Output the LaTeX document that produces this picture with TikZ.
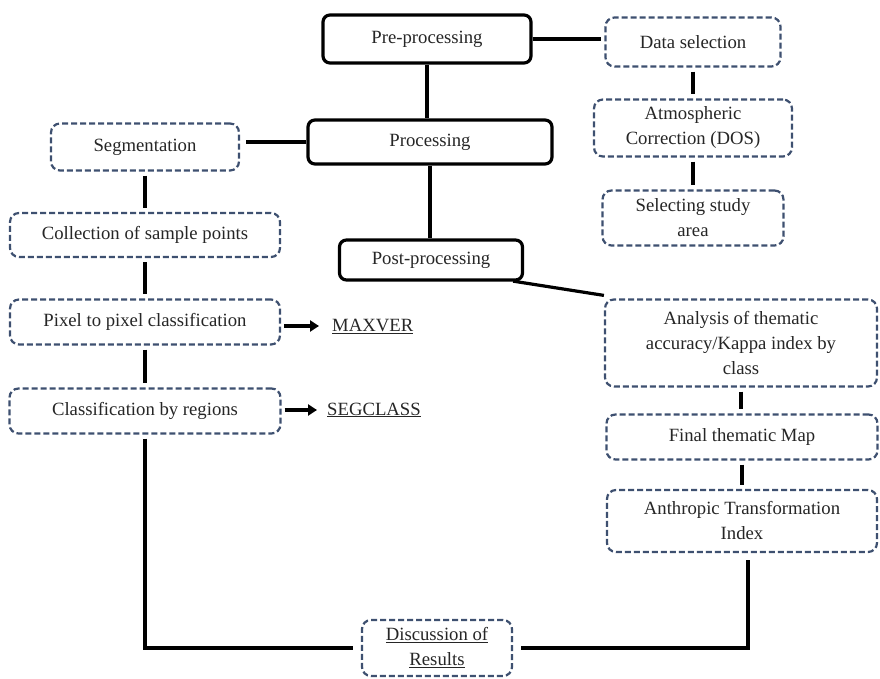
\documentclass[tikz,border=0pt]{standalone}
\usepackage{fontspec}
\setmainfont{Liberation Serif}
\usetikzlibrary{arrows.meta}
\definecolor{dashblue}{RGB}{62,80,112}
\tikzset{
  solidbox/.style={draw=black, line width=3.2pt, rounded corners=7pt, fill=white, align=center, inner sep=0pt},
  dashbox/.style={draw=dashblue, line width=2.2pt, dash pattern=on 6pt off 3pt, rounded corners=9pt, fill=white, align=center, inner sep=0pt},
  link/.style={line width=3.2pt, black},
  gap/.style={shorten <=4pt, shorten >=4pt},
  tool/.style={anchor=west, inner sep=0pt},
}
\begin{document}
\begin{tikzpicture}[x=1pt, y=-1pt, font=\fontsize{18.7}{25}\selectfont, text=black!85]
            \useasboundingbox (0,0) rectangle (880,679);

            % main chain
            \node[solidbox, minimum width=208pt, minimum height=48pt] (pre) at (427,39) {Pre-processing};
            \node[solidbox, minimum width=244pt, minimum height=44pt] (proc) at (430,142) {Processing};
            \node[solidbox, minimum width=183pt, minimum height=40pt] (post) at (431,260) {Post-processing};

            % pre-processing steps
            \node[dashbox, minimum width=175pt, minimum height=49pt] (data) at (693,42) {Data selection};
            \node[dashbox, minimum width=198pt, minimum height=57pt] (atm) at (693,128) {Atmospheric\\Correction (DOS)};
            \node[dashbox, minimum width=181pt, minimum height=55pt] (area) at (693,218) {Selecting study\\area};

            % processing steps
            \node[dashbox, minimum width=188pt, minimum height=47pt] (seg) at (145,147) {Segmentation};
            \node[dashbox, minimum width=270pt, minimum height=44pt] (coll) at (145,235) {Collection of sample points};
            \node[dashbox, minimum width=270pt, minimum height=45pt] (pix) at (145,322) {Pixel to pixel classification};
            \node[dashbox, minimum width=271pt, minimum height=45pt] (cls) at (145,411) {Classification by regions};
            \node[tool] (maxver) at (332,326) {\underline{MAXVER}};
            \node[tool] (segclass) at (327,410) {\underline{SEGCLASS}};

            % post-processing steps
            \node[dashbox, minimum width=272pt, minimum height=87pt] (ana) at (741,343) {Analysis of thematic\\accuracy/Kappa index by\\class};
            \node[dashbox, minimum width=271pt, minimum height=45pt] (map) at (742,437) {Final thematic Map};
            \node[dashbox, minimum width=270pt, minimum height=62pt] (anth) at (742,521) {Anthropic Transformation\\Index};

            \node[dashbox, minimum width=150pt, minimum height=56pt] (disc) at (437,648) {\underline{Discussion of}\\\underline{Results}};

            % connectors
            \draw[link] (pre) -- (pre |- proc.north);
            \draw[link] (proc) -- (proc |- post.north);
            \draw[link, shorten >=3pt] (pre.east) -- (pre.east -| data.west);
            \draw[link, shorten >=6pt] (proc.west) -- (proc.west -| seg.east);

            \draw[link, gap] (data.south) -- (data.south |- atm.north);
            \draw[link, gap] (atm.south) -- (atm.south |- area.north);

            \draw[link, gap] (seg.south) -- (seg.south |- coll.north);
            \draw[link, gap] (coll.south) -- (coll.south |- pix.north);
            \draw[link, gap] (pix.south) -- (pix.south |- cls.north);
            \draw[link, -{Triangle[length=9pt, width=11pt]}, shorten <=3pt, shorten >=13pt] (pix.east |- maxver.west) -- (maxver.west);
            \draw[link, -{Triangle[length=9pt, width=11pt]}, shorten <=3pt, shorten >=10pt] (cls.east |- segclass.west) -- (segclass.west);

            \draw[link, shorten <=-3pt] ([xshift=-8pt]post.south east) -- ([yshift=3pt]ana.north west);
            \draw[link, gap] (ana.south) -- (ana.south |- map.north);
            \draw[link, gap] (map.south) -- (map.south |- anth.north);

            \draw[link, shorten <=4pt, shorten >=8pt] (cls.south) |- (disc.west);
            \draw[link, shorten <=7pt, shorten >=8pt] ([xshift=6pt]anth.south) |- (disc.east);
        \end{tikzpicture}
\end{document}
